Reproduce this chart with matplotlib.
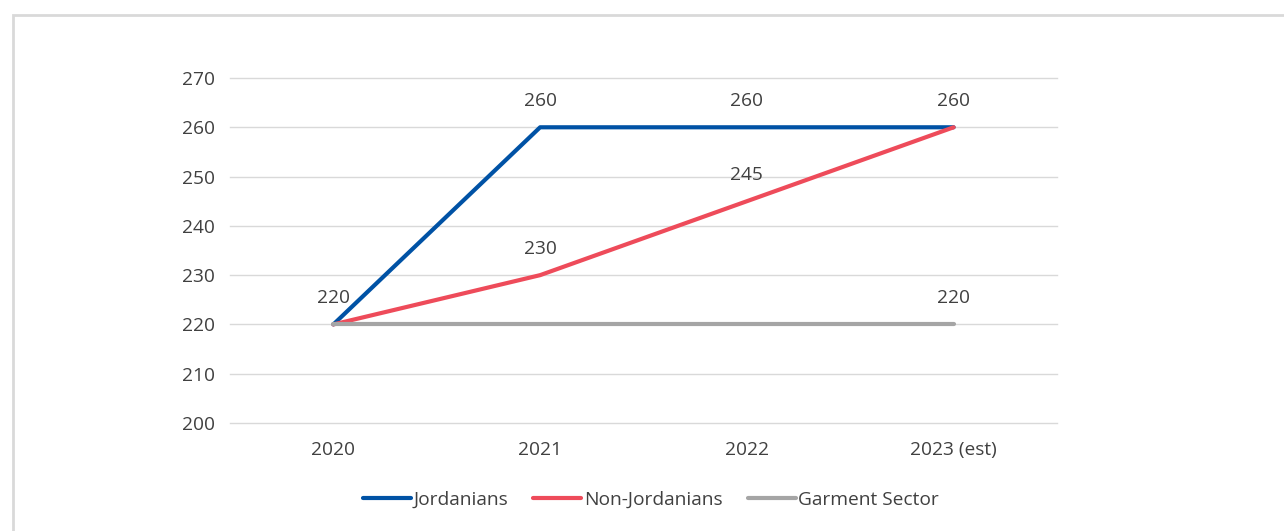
import matplotlib.pyplot as plt
from matplotlib.patches import Rectangle

years = ["2020", "2021", "2022", "2023 (est)"]
jordanians = [220, 260, 260, 260]
non_jordanians = [220, 230, 245, 260]
garment_sector = [220, 220, 220, 220]

BLUE = "#0052A5"
RED = "#EE4B5A"
GREY = "#A5A5A5"
TEXT = "#404040"

plt.rcParams["font.family"] = ["Open Sans", "DejaVu Sans"]

fig = plt.figure(figsize=(12.84, 5.31), dpi=100)
ax = fig.add_axes([230 / 1284, 1 - 423 / 531, 827 / 1284, 345 / 531])

# outer frame, running off the right and bottom edges
fig.patches.append(Rectangle((13 / 1284, -0.1), 1.2, 1 - 15 / 531 + 0.1,
                             transform=fig.transFigure, fill=False,
                             edgecolor="#D9D9D9", linewidth=2))

x = list(range(len(years)))
ax.plot(x, jordanians, color=BLUE, lw=3, label="Jordanians", solid_capstyle="round", zorder=3)
ax.plot(x, non_jordanians, color=RED, lw=3, label="Non-Jordanians", solid_capstyle="round", zorder=4)
ax.plot(x, garment_sector, color=GREY, lw=3, label="Garment Sector", solid_capstyle="round", zorder=5)

# value labels; points that share a value get one label
off = 26 * 70 / 345
shown = set()
labelled = [(jordanians, range(len(years))),
            (non_jordanians, range(len(years))),
            (garment_sector, (0, len(years) - 1))]
for series, idx in labelled:
    for i in idx:
        v = series[i]
        if (i, v) in shown:
            continue
        shown.add((i, v))
        ax.text(i, v + off, str(v), ha="center", va="center",
                fontsize=13.8, color=TEXT, zorder=6)

ax.set_xlim(-0.5, len(years) - 0.5)
ax.set_ylim(200, 270)
ax.set_yticks(range(200, 271, 10))
ax.set_xticks(x)
ax.set_xticklabels(years)
ax.tick_params(length=0, labelsize=13.8, labelcolor=TEXT)
ax.tick_params(axis="y", pad=11)
ax.tick_params(axis="x", pad=13)
ax.grid(axis="y", color="#D9D9D9", lw=1)
for gl in ax.get_ygridlines():
    gl.set_clip_on(False)
ax.set_axisbelow(True)
for s in ax.spines.values():
    s.set_visible(False)

leg = ax.legend(loc="center", bbox_to_anchor=(651 / 1284, 1 - 500 / 531),
                bbox_transform=fig.transFigure, ncol=3, frameon=False,
                fontsize=13.8, handlelength=2.5, handletextpad=0.15, columnspacing=1.3)
for t in leg.get_texts():
    t.set_color(TEXT)

fig.savefig("out.png", dpi=100, facecolor="white")
